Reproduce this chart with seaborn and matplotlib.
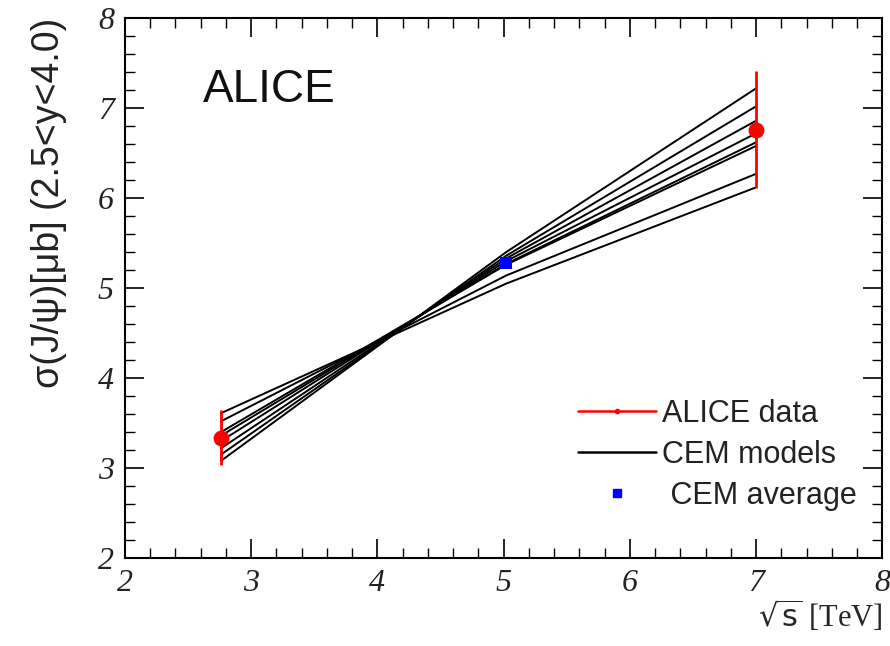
import matplotlib
matplotlib.use("Agg")
import matplotlib.pyplot as plt
import seaborn as sns
import pandas as pd
from matplotlib.lines import Line2D
from matplotlib.ticker import MultipleLocator

# Data
energies = [2.76, 7.0]
alice_y = [3.34, 6.76]
alice_err = [0.31, 0.65]
cem_avg_x = [5.02]
cem_avg_y = [5.28]
model_x = [2.76, 5.02, 7.0]
model_left = [3.08, 3.15, 3.22, 3.30, 3.36, 3.40, 3.52, 3.61]
model_mid = [5.40, 5.36, 5.33, 5.30, 5.27, 5.26, 5.14, 5.05]
model_right = [7.22, 7.02, 6.86, 6.72, 6.62, 6.58, 6.27, 6.12]

sns.set_style("white")
fig = plt.figure(figsize=(8.9, 6.46), dpi=100)
ax = fig.add_axes([0.1404, 0.136, 0.851, 0.836])

rows = []
for i, vals in enumerate(zip(model_left, model_mid, model_right)):
    for xv, yv in zip(model_x, vals):
        rows.append({"model": i, "x": xv, "y": yv})
df = pd.DataFrame(rows)
sns.lineplot(data=df, x="x", y="y", units="model", estimator=None,
             color="black", lw=1.4, ax=ax, legend=False)

ax.errorbar(energies, alice_y, yerr=alice_err, fmt="none", ecolor="red",
            elinewidth=2, capsize=0, zorder=4)
sns.scatterplot(x=energies, y=alice_y, color="red", s=130, marker="o",
                edgecolor="red", linewidth=0, ax=ax, zorder=5)
sns.scatterplot(x=cem_avg_x, y=cem_avg_y, color="blue", s=85, marker="s",
                edgecolor="blue", linewidth=0, ax=ax, zorder=5)

ax.set_xlim(2, 8)
ax.set_ylim(2, 8)
ax.xaxis.set_major_locator(MultipleLocator(1))
ax.xaxis.set_minor_locator(MultipleLocator(0.2))
ax.yaxis.set_major_locator(MultipleLocator(1))
ax.yaxis.set_minor_locator(MultipleLocator(0.2))
ax.tick_params(which="both", direction="in", top=True, right=True,
               bottom=True, left=True, color="black")
ax.tick_params(which="major", length=14, width=1.2, pad=8)
ax.tick_params(which="minor", length=7, width=1.0)
for lab in ax.get_xticklabels() + ax.get_yticklabels():
    lab.set_family("Liberation Serif")
    lab.set_style("italic")
    lab.set_fontsize(23)
    lab.set_color("#222222")
for sp in ax.spines.values():
    sp.set_color("black")
    sp.set_linewidth(1.5)

ax.set_xlabel(r"$\sqrt{\rm s}$ [TeV]", family="Liberation Serif", fontsize=22,
              loc="right", labelpad=0)
ax.set_ylabel("σ(J/ψ)[μb] (2.5<y<4.0)", family="Liberation Sans", fontsize=27,
              loc="top", labelpad=22, color="#222222")

ax.text(0.103, 0.867, "ALICE", transform=ax.transAxes, family="Liberation Sans",
        fontsize=33, va="center", ha="left", color="#111111")

handles = [
    Line2D([0], [0], color="red", lw=1.8, marker="o", markersize=3),
    Line2D([0], [0], color="black", lw=1.8),
    Line2D([0], [0], color="blue", lw=0, marker="s", markersize=6),
]
labels = ["ALICE data", "CEM models", " CEM average"]
leg = ax.legend(handles, labels, loc="upper left", bbox_to_anchor=(0.598, 0.295),
                frameon=False, prop={"family": "Liberation Sans", "size": 22},
                handlelength=2.55, labelspacing=0.36, handletextpad=0.2,
                borderpad=0, borderaxespad=0)
for t in leg.get_texts():
    t.set_color("#222222")

fig.savefig("out.png", dpi=100)
